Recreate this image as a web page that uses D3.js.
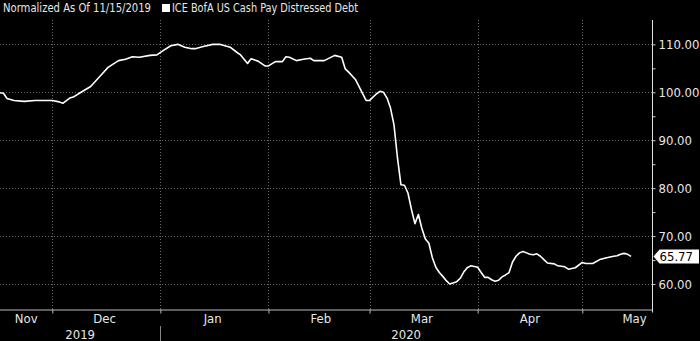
<!DOCTYPE html>
<html><head><meta charset="utf-8">
<script src="https://cdn.jsdelivr.net/npm/d3@7"></script>
<style>
html,body{margin:0;padding:0;background:#000;}
svg{display:block;background:#000;}
text{font-family:"Liberation Sans Narrow","DejaVu Sans Condensed","Arial Narrow",sans-serif;}
</style></head><body><svg id="chart" width="700" height="341"></svg>
<script>
const subtitle = "Normalized As Of 11/15/2019";
const seriesName = "ICE BofA US Cash Pay Distressed Debt";
const dates = ["2019-11-15","2019-11-17","2019-11-18","2019-11-20","2019-11-23","2019-11-26","2019-12-01","2019-12-03","2019-12-04","2019-12-06","2019-12-07","2019-12-09","2019-12-12","2019-12-15","2019-12-17","2019-12-20","2019-12-22","2019-12-24","2019-12-26","2019-12-29","2019-12-31","2020-01-02","2020-01-04","2020-01-06","2020-01-08","2020-01-10","2020-01-11","2020-01-13","2020-01-16","2020-01-18","2020-01-21","2020-01-23","2020-01-24","2020-01-26","2020-01-27","2020-01-29","2020-01-31","2020-02-01","2020-02-03","2020-02-05","2020-02-06","2020-02-07","2020-02-09","2020-02-11","2020-02-13","2020-02-14","2020-02-17","2020-02-20","2020-02-22","2020-02-23","2020-02-24","2020-02-26","2020-02-29","2020-03-01","2020-03-03","2020-03-04","2020-03-05","2020-03-06","2020-03-07","2020-03-08","2020-03-09","2020-03-10","2020-03-11","2020-03-12","2020-03-13","2020-03-14","2020-03-15","2020-03-16","2020-03-17","2020-03-18","2020-03-19","2020-03-20","2020-03-21","2020-03-22","2020-03-23","2020-03-24","2020-03-26","2020-03-27","2020-03-28","2020-03-29","2020-03-30","2020-04-01","2020-04-02","2020-04-03","2020-04-04","2020-04-05","2020-04-06","2020-04-07","2020-04-08","2020-04-09","2020-04-10","2020-04-11","2020-04-12","2020-04-13","2020-04-14","2020-04-15","2020-04-16","2020-04-17","2020-04-18","2020-04-19","2020-04-20","2020-04-21","2020-04-23","2020-04-24","2020-04-26","2020-04-27","2020-04-29","2020-05-01","2020-05-02","2020-05-04","2020-05-06","2020-05-08","2020-05-10","2020-05-11","2020-05-12","2020-05-13","2020-05-14","2020-05-15"];
const values = [100.0,99.8,98.7,98.3,98.1,98.3,98.3,98.0,97.7,98.8,99.0,99.9,101.2,103.6,105.2,106.6,106.9,107.4,107.3,107.7,107.8,108.8,109.7,110.0,109.4,109.1,109.1,109.5,110.0,110.0,109.4,108.3,107.8,106.0,107.0,106.5,105.5,105.5,106.4,106.4,107.4,107.3,106.6,106.9,107.1,106.6,106.6,107.7,107.3,104.9,104.2,102.6,98.3,98.3,99.7,100.2,100.0,98.8,96.7,93.2,86.3,80.7,80.6,79.0,75.6,72.6,74.5,71.6,69.4,68.5,65.5,63.5,62.4,61.6,60.7,60.0,60.5,61.2,62.5,63.4,63.8,63.5,62.4,61.4,61.4,60.9,60.6,60.8,61.5,61.9,62.4,64.6,65.8,66.5,66.8,66.5,66.2,66.1,66.3,65.8,65.1,64.4,64.2,63.8,63.6,63.1,63.4,64.5,64.3,64.3,65.1,65.5,65.8,65.9,66.2,66.4,66.2,65.77];
const yTickValues = [60,70,80,90,100,110];
const yMinorTickValues = [65,75,85,95,105];
const monthStarts = ["2019-12-01","2020-01-01","2020-02-01","2020-03-01","2020-04-01","2020-05-01"];
const monthNames = ["Nov","Dec","Jan","Feb","Mar","Apr","May"];
const yearNames = ["2019","2020"];
const lastValueText = "65.77";

const parse = d3.timeParse("%Y-%m-%d");
const data = dates.map((d,i)=>({date:parse(d), value:values[i]}));

const W = 700, H = 341;
const plotLeft = 0, plotRight = 652, plotTop = 20, plotBottom = 309.5;
const svg = d3.select("#chart");
const textColor = "#e6e6e6";

const x = d3.scaleTime().domain([new Date(2019,10,16), new Date(2020,4,21)]).range([plotLeft, plotRight]);
const y = d3.scaleLinear().domain([54.69, 115.08]).range([plotBottom, plotTop]);

svg.append("defs").append("clipPath").attr("id","clip")
  .append("rect").attr("x",plotLeft).attr("y",plotTop-5).attr("width",plotRight-plotLeft).attr("height",plotBottom-plotTop+5);

// horizontal gridlines
svg.append("g").selectAll("line").data(yTickValues).join("line")
  .attr("x1",plotLeft).attr("x2",plotRight)
  .attr("y1",d=>Math.round(y(d))+0.5).attr("y2",d=>Math.round(y(d))+0.5)
  .attr("stroke","#6a6a6a").attr("stroke-width",1).attr("stroke-dasharray","1,2");

// vertical gridlines
const monthDates = monthStarts.map(parse);
svg.append("g").selectAll("line").data(monthDates).join("line")
  .attr("x1",d=>Math.round(x(d))+0.5).attr("x2",d=>Math.round(x(d))+0.5)
  .attr("y1",plotTop).attr("y2",plotBottom)
  .attr("stroke","#6a6a6a").attr("stroke-width",1).attr("stroke-dasharray","1,2");

// line
svg.append("path").datum(data)
  .attr("clip-path","url(#clip)")
  .attr("fill","none").attr("stroke","#ffffff").attr("stroke-width",1.6).attr("stroke-linejoin","round")
  .attr("d", d3.line().x(d=>x(d.date)).y(d=>y(d.value)));

// right axis
const yAxis = d3.axisRight(y).tickValues(yTickValues).tickSize(3).tickPadding(3).tickFormat(d3.format(".2f"));
const gy = svg.append("g").attr("transform",`translate(${plotRight+0.5},0)`).call(yAxis);
gy.select(".domain").remove();
gy.selectAll(".tick line").attr("stroke","#cccccc");
gy.selectAll(".tick text").attr("fill",textColor).attr("font-size",13)
  .style("font-family","'DejaVu Sans Condensed','Liberation Sans Narrow',sans-serif");
const gyMinor = svg.append("g").attr("transform",`translate(${plotRight+0.5},0)`)
  .call(d3.axisRight(y).tickValues(yMinorTickValues).tickSize(3).tickFormat(""));
gyMinor.select(".domain").remove();
gyMinor.selectAll(".tick line").attr("stroke","#cccccc");
svg.append("line").attr("x1",plotRight+0.5).attr("x2",plotRight+0.5).attr("y1",plotTop).attr("y2",plotBottom+3)
  .attr("stroke","#e0e0e0").attr("stroke-width",1);

// bottom axis
const xAxis = d3.axisBottom(x).tickValues(monthDates).tickSize(4).tickFormat("");
const gx = svg.append("g").attr("transform",`translate(0,${plotBottom})`).call(xAxis);
gx.select(".domain").attr("stroke","#bbbbbb").attr("d",`M${plotLeft},0.5H${plotRight}`);
gx.selectAll(".tick line").attr("stroke","#bbbbbb");

// month labels
const [d0, d1] = x.domain();
const monthBounds = [d0, ...monthDates, d1];
monthNames.forEach((name,i)=>{
  const a = monthBounds[i], b = monthBounds[i+1];
  const mid = new Date(a.getFullYear(), a.getMonth(), 16);
  let px = x(mid);
  const xa = x(a), xb = x(b);
  if (px < xa + 20 || px > xb + 30) px = (xa+xb)/2;
  if (i===0) px = (xa+xb)/2;
  svg.append("text").attr("x",px).attr("y",323).attr("text-anchor","middle")
    .attr("fill",textColor).attr("font-size",13).text(name);
});

// year labels
const yearBreak = parse("2020-01-01");
const yb = [d0, yearBreak, d1];
yearNames.forEach((name,i)=>{
  svg.append("text").attr("x",(x(yb[i])+x(yb[i+1]))/2).attr("y",339).attr("text-anchor","middle")
    .attr("fill",textColor).attr("font-size",13).text(name);
});
svg.append("line").attr("x1",Math.round(x(yearBreak))+0.5).attr("x2",Math.round(x(yearBreak))+0.5)
  .attr("y1",326).attr("y2",341).attr("stroke","#888").attr("stroke-width",1);

// header
svg.append("text").attr("x",3).attr("y",12).attr("fill",textColor).attr("font-size",12.5)
  .attr("textLength",148).attr("lengthAdjust","spacingAndGlyphs").text(subtitle);
svg.append("rect").attr("x",162).attr("y",4).attr("width",8).attr("height",8).attr("fill","#ffffff");
svg.append("text").attr("x",172).attr("y",12).attr("fill",textColor).attr("font-size",12.5)
  .attr("textLength",186).attr("lengthAdjust","spacingAndGlyphs").text(seriesName);

// last value tag
const lastY = y(values[values.length-1]);
const tx = plotRight + 1.5;
svg.append("path")
  .attr("d",`M${tx},${lastY} L${tx+6},${lastY-7} H${W-1} V${lastY+7} H${tx+6} Z`)
  .attr("fill","#ffffff");
svg.append("text").attr("x",tx+6).attr("y",lastY+5).attr("fill","#000").attr("font-size",13)
  .style("font-family","'DejaVu Sans Condensed','Liberation Sans Narrow',sans-serif")
  .text(lastValueText);
</script></body></html>
